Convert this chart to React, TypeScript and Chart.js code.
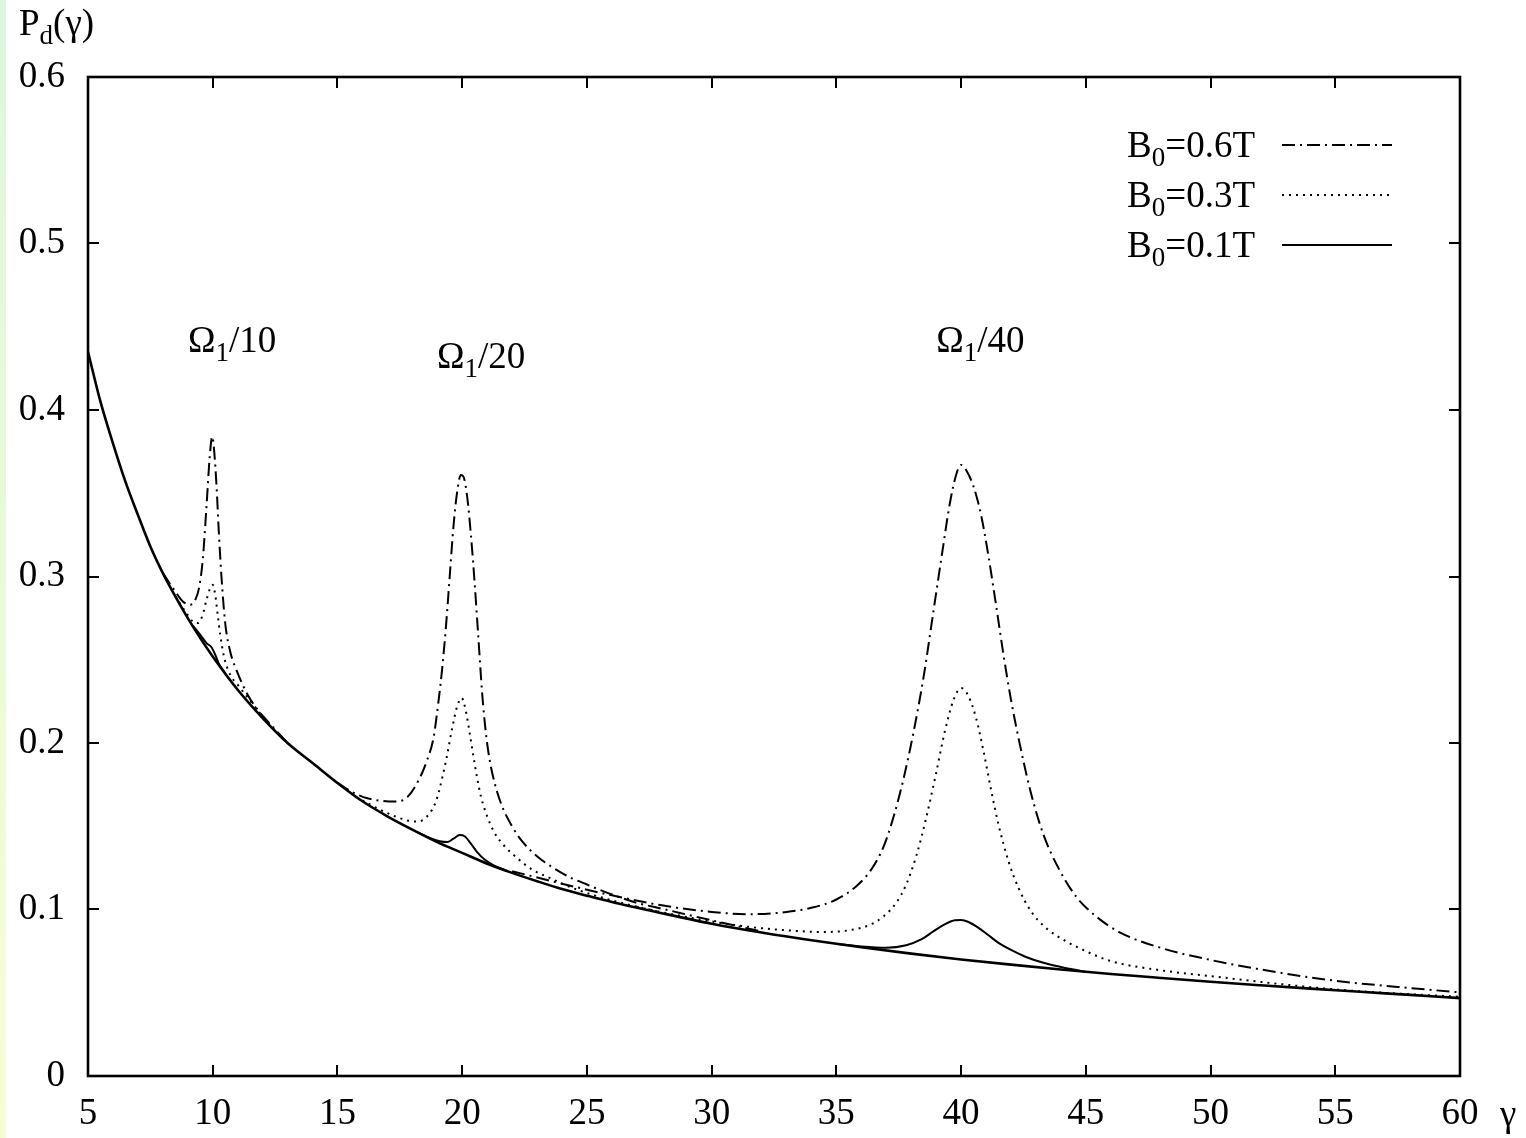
import { useEffect, useRef } from "react";
import { Chart, registerables } from "chart.js";

Chart.register(...registerables);

// Axis ticks
const gammaTicks = [5, 10, 15, 20, 25, 30, 35, 40, 45, 50, 55, 60];
const pTicks = [0, 0.1, 0.2, 0.3, 0.4, 0.5, 0.6];

// Non-resonant background curve P_d(γ)
const baseGamma = [5, 5.5, 6, 6.5, 7, 7.5, 8, 8.5, 9, 9.5, 10, 11, 12, 13, 14, 15, 16, 17, 18, 19, 20, 21, 22, 23, 24, 25, 26, 28, 30, 32, 34, 36, 38, 40, 42, 44, 46, 48, 50, 52, 54, 56, 58, 60];
const baseP = [0.435, 0.405, 0.38, 0.357, 0.337, 0.318, 0.302, 0.288, 0.275, 0.263, 0.252, 0.232, 0.215, 0.2, 0.188, 0.176, 0.165, 0.156, 0.148, 0.1405, 0.134, 0.1275, 0.122, 0.117, 0.1123, 0.1083, 0.1045, 0.0978, 0.0915, 0.0862, 0.0815, 0.0773, 0.0735, 0.07, 0.0669, 0.064, 0.0613, 0.0589, 0.0566, 0.0545, 0.0525, 0.0506, 0.0487, 0.0468];

// B0 = 0.6T resonances (dash-dot)
const b06r10Gamma = [8.0, 8.5, 8.8, 9.1, 9.3, 9.45, 9.6, 9.75, 9.88, 9.98, 10.06, 10.15, 10.25, 10.35, 10.5, 10.7, 11.0, 11.4, 11.8, 12.3, 13.0];
const b06r10P = [0.302, 0.291, 0.285, 0.283, 0.286, 0.293, 0.31, 0.342, 0.372, 0.384, 0.375, 0.355, 0.325, 0.3, 0.272, 0.255, 0.242, 0.229, 0.22, 0.2115, 0.2];
const b06r20Gamma = [15.0, 15.6, 16.2, 16.8, 17.3, 17.8, 18.3, 18.6, 18.85, 19.05, 19.2, 19.35, 19.5, 19.65, 19.8, 19.95, 20.05, 20.2, 20.35, 20.5, 20.65, 20.8, 20.95, 21.1, 21.3, 21.6, 22.0, 22.4, 23.0, 23.5, 24.3, 25.0, 26.0, 27.0, 28.0, 30.0, 32.0];
const b06r20P = [0.176, 0.1705, 0.1668, 0.1652, 0.1648, 0.1675, 0.179, 0.19, 0.203, 0.225, 0.245, 0.27, 0.3, 0.33, 0.351, 0.361, 0.36, 0.348, 0.325, 0.296, 0.263, 0.23, 0.206, 0.19, 0.176, 0.162, 0.15, 0.141, 0.132, 0.1265, 0.1195, 0.115, 0.109, 0.104, 0.1005, 0.0935, 0.0868];
const b06r40Gamma = [22, 24, 26, 28, 30, 31.5, 33, 34, 35, 35.8, 36.4, 36.9, 37.3, 37.7, 38.1, 38.5, 38.9, 39.25, 39.55, 39.8, 40.0, 40.2, 40.5, 40.8, 41.1, 41.4, 41.7, 42.0, 42.4, 42.8, 43.3, 43.9, 44.6, 45.4, 46.4, 48.0, 50.0, 52.0, 55.0, 57.5, 60.0];
const b06r40P = [0.123, 0.1155, 0.1085, 0.1025, 0.0985, 0.0972, 0.0985, 0.101, 0.106, 0.114, 0.124, 0.138, 0.156, 0.179, 0.207, 0.24, 0.28, 0.315, 0.344, 0.361, 0.367, 0.364, 0.354, 0.337, 0.312, 0.283, 0.253, 0.226, 0.196, 0.17, 0.145, 0.125, 0.108, 0.096, 0.086, 0.077, 0.0697, 0.064, 0.0572, 0.0535, 0.0502];

// B0 = 0.3T resonances (dotted)
const b03r10Gamma = [8.5, 8.9, 9.2, 9.4, 9.6, 9.75, 9.9, 10.0, 10.1, 10.2, 10.3, 10.45, 10.7, 11.0, 11.5, 12.0, 12.5];
const b03r10P = [0.288, 0.279, 0.273, 0.272, 0.277, 0.286, 0.293, 0.295, 0.289, 0.277, 0.265, 0.252, 0.241, 0.235, 0.2255, 0.216, 0.2075];
const b03r20Gamma = [16.0, 16.7, 17.3, 17.8, 18.2, 18.6, 18.95, 19.2, 19.4, 19.6, 19.8, 19.98, 20.15, 20.3, 20.45, 20.6, 20.75, 21.0, 21.3, 21.7, 22.2, 22.8, 23.5, 24.5, 26.0, 28.0];
const b03r20P = [0.1655, 0.16, 0.156, 0.1535, 0.1528, 0.156, 0.165, 0.179, 0.193, 0.209, 0.222, 0.227, 0.219, 0.206, 0.192, 0.179, 0.168, 0.156, 0.146, 0.138, 0.131, 0.124, 0.119, 0.1125, 0.1055, 0.0982];
const b03r40Gamma = [27, 29, 31, 33, 34.5, 35.5, 36.3, 36.9, 37.4, 37.8, 38.2, 38.6, 39.0, 39.35, 39.7, 40.0, 40.3, 40.6, 40.9, 41.2, 41.5, 41.9, 42.3, 42.8, 43.4, 44.2, 45.0, 46.0, 48.0, 50.0, 52.5, 55.0, 57.5, 60.0];
const b03r40P = [0.1015, 0.0955, 0.0905, 0.0875, 0.0865, 0.0875, 0.0905, 0.096, 0.104, 0.115, 0.132, 0.155, 0.182, 0.207, 0.226, 0.233, 0.228, 0.215, 0.195, 0.172, 0.151, 0.129, 0.113, 0.099, 0.089, 0.081, 0.075, 0.069, 0.0635, 0.06, 0.0557, 0.052, 0.0495, 0.0476];

// B0 = 0.1T resonances (solid)
const b01r10Gamma = [9.2, 9.5, 9.75, 9.95, 10.1, 10.25, 10.5];
const b01r10P = [0.2705, 0.265, 0.26, 0.2575, 0.253, 0.2475, 0.242];
const b01r20Gamma = [18.2, 18.7, 19.1, 19.4, 19.65, 19.9, 20.1, 20.35, 20.6, 20.9, 21.3, 21.8];
const b01r20P = [0.1465, 0.143, 0.141, 0.1405, 0.1425, 0.1447, 0.144, 0.1395, 0.1345, 0.13, 0.1262, 0.1232];
const b01r40Gamma = [35, 36, 37, 37.8, 38.4, 38.9, 39.4, 39.75, 40.0, 40.3, 40.7, 41.1, 41.5, 42.0, 42.6, 43.3, 44.0, 45.0];
const b01r40P = [0.0794, 0.0778, 0.077, 0.0785, 0.082, 0.087, 0.0915, 0.0935, 0.0937, 0.0925, 0.089, 0.0845, 0.08, 0.0757, 0.0715, 0.068, 0.0655, 0.0625];

const legendValues = ["0.6T", "0.3T", "0.1T"];
const annotations = [
  { rest: "/10", gamma: 9.01, p: 0.4348 },
  { rest: "/20", gamma: 18.99, p: 0.4252 },
  { rest: "/40", gamma: 39.0, p: 0.4348 },
];

const SERIF = "'Liberation Serif', 'Times New Roman', serif";
const MAIN_FONT = `37px ${SERIF}`;
const SUB_FONT = `27px ${SERIF}`;
const DASH_DOT = [13, 5, 2, 5];
const DOTTED = [2, 5];
const legendDashes = [DASH_DOT, DOTTED, []];

const pts = (g: number[], p: number[]) => g.map((x, i) => ({ x, y: p[i] }));

type Part = { t: string; sub?: boolean };

function measureParts(ctx: CanvasRenderingContext2D, parts: Part[]) {
  let w = 0;
  for (const part of parts) {
    ctx.font = part.sub ? SUB_FONT : MAIN_FONT;
    w += ctx.measureText(part.t).width;
  }
  return w;
}

function drawParts(ctx: CanvasRenderingContext2D, parts: Part[], x: number, baseline: number) {
  let cx = x;
  ctx.textAlign = "left";
  ctx.textBaseline = "alphabetic";
  for (const part of parts) {
    ctx.font = part.sub ? SUB_FONT : MAIN_FONT;
    ctx.fillText(part.t, cx, part.sub ? baseline + 9 : baseline);
    cx += ctx.measureText(part.t).width;
  }
}

const decorations = {
  id: "decorations",
  afterDraw(chart: any) {
    const { ctx, chartArea: a } = chart;
    const xs = chart.scales.x;
    const ys = chart.scales.y;
    ctx.save();
    ctx.fillStyle = "#000";
    ctx.strokeStyle = "#000";

    // inward ticks on all four sides
    ctx.lineWidth = 2;
    ctx.setLineDash([]);
    ctx.beginPath();
    for (const v of gammaTicks) {
      const px = Math.round(xs.getPixelForValue(v));
      ctx.moveTo(px, a.bottom);
      ctx.lineTo(px, a.bottom - 11);
      ctx.moveTo(px, a.top);
      ctx.lineTo(px, a.top + 11);
    }
    for (const v of pTicks) {
      const py = Math.round(ys.getPixelForValue(v));
      ctx.moveTo(a.left, py);
      ctx.lineTo(a.left + 11, py);
      ctx.moveTo(a.right, py);
      ctx.lineTo(a.right - 11, py);
    }
    ctx.stroke();

    // frame
    ctx.lineWidth = 2.6;
    ctx.strokeRect(a.left, a.top, a.right - a.left, a.bottom - a.top);

    // axis titles
    drawParts(ctx, [{ t: "P" }, { t: "d", sub: true }, { t: "(γ)" }], 19, 35);
    drawParts(ctx, [{ t: "γ" }], a.right + 40, a.bottom + 50);

    // resonance labels
    for (const an of annotations) {
      drawParts(
        ctx,
        [{ t: "Ω" }, { t: "1", sub: true }, { t: an.rest }],
        xs.getPixelForValue(an.gamma),
        ys.getPixelForValue(an.p)
      );
    }

    // legend
    legendValues.forEach((val, i) => {
      const lineY = a.top + 68 + i * 50;
      const parts: Part[] = [{ t: "B" }, { t: "0", sub: true }, { t: "=" + val }];
      const w = measureParts(ctx, parts);
      drawParts(ctx, parts, a.right - 205 - w, lineY + 12);
      ctx.lineWidth = 2;
      ctx.setLineDash(legendDashes[i]);
      ctx.beginPath();
      ctx.moveTo(a.right - 178, lineY);
      ctx.lineTo(a.right - 68, lineY);
      ctx.stroke();
    });
    ctx.restore();
  },
};

function curve(data: { x: number; y: number }[], dash: number[], width = 2) {
  return {
    data,
    borderColor: "#000",
    borderWidth: width,
    borderDash: dash,
    pointRadius: 0,
    fill: false,
    tension: 0.4,
    cubicInterpolationMode: "monotone" as const,
  };
}

export default function App() {
  const canvasRef = useRef<HTMLCanvasElement | null>(null);

  useEffect(() => {
    if (!canvasRef.current) return;
    const chart = new Chart(canvasRef.current, {
      type: "line",
      data: {
        datasets: [
          curve(pts(baseGamma, baseP), [], 2.6),
          curve(pts(b01r10Gamma, b01r10P), []),
          curve(pts(b01r20Gamma, b01r20P), []),
          curve(pts(b01r40Gamma, b01r40P), []),
          curve(pts(b03r10Gamma, b03r10P), DOTTED),
          curve(pts(b03r20Gamma, b03r20P), DOTTED),
          curve(pts(b03r40Gamma, b03r40P), DOTTED),
          curve(pts(b06r10Gamma, b06r10P), DASH_DOT),
          curve(pts(b06r20Gamma, b06r20P), DASH_DOT),
          curve(pts(b06r40Gamma, b06r40P), DASH_DOT),
        ] as any,
      },
      options: {
        animation: false,
        responsive: false,
        maintainAspectRatio: false,
        layout: { padding: { top: 77, right: 66, left: 0, bottom: 0 } },
        plugins: { legend: { display: false }, tooltip: { enabled: false } },
        scales: {
          x: {
            type: "linear",
            min: 5,
            max: 60,
            afterFit: (s: any) => {
              s.height = 62;
            },
            grid: { display: false, drawTicks: false },
            border: { display: false },
            ticks: {
              stepSize: 5,
              autoSkip: false,
              maxRotation: 0,
              padding: 16,
              color: "#000",
              font: { family: SERIF, size: 37 },
            },
          },
          y: {
            type: "linear",
            min: 0,
            max: 0.6,
            afterFit: (s: any) => {
              s.width = 88;
            },
            grid: { display: false, drawTicks: false },
            border: { display: false },
            ticks: {
              stepSize: 0.1,
              padding: 23,
              color: "#000",
              font: { family: SERIF, size: 37 },
              callback: (v: any) => (Number(v) === 0 ? "0" : Number(v).toFixed(1)),
            },
          },
        },
      },
      plugins: [decorations],
    });
    return () => chart.destroy();
  }, []);

  return (
    <div style={{ position: "absolute", left: 0, top: 0, width: 1526, height: 1138, background: "#fff" }}>
      <div
        style={{
          position: "absolute",
          left: 0,
          top: 0,
          width: 6,
          height: 1138,
          background: "linear-gradient(to bottom, #dcf7dc, #f8fcd6)",
        }}
      />
      <canvas ref={canvasRef} width={1526} height={1138} style={{ position: "absolute", left: 0, top: 0 }} />
    </div>
  );
}
